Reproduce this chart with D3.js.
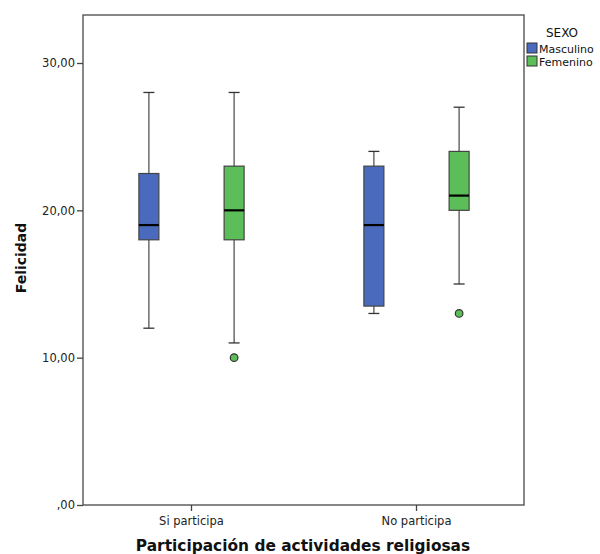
<!DOCTYPE html>
<html>
<head>
<meta charset="utf-8">
<script src="https://cdn.jsdelivr.net/npm/d3@7"></script>
<style>
  html, body { margin: 0; padding: 0; background: #fff; }
  svg { display: block; font-family: "DejaVu Sans", sans-serif; }
</style>
</head>
<body>
<svg id="chart" width="600" height="554"></svg>
<script>
// Categories and groups
const categories = ["Si participa", "No participa"];
const groups = ["Masculino", "Femenino"];
const groupColors = ["#4a6bbd", "#5cbe58"];

// Box statistics per category, in group order: [low whisker, Q1, median, Q3, high whisker]
const siParticipa = [
  [12, 18, 19, 22.5, 28],
  [11, 18, 20, 23, 28]
];
const noParticipa = [
  [13, 13.5, 19, 23, 24],
  [15, 20, 21, 24, 27]
];
// Outliers per category, in group order
const siOutliers = [[], [10]];
const noOutliers = [[], [13]];

const yTicks = [0, 10, 20, 30];

const statsByCat = [siParticipa, noParticipa];
const outliersByCat = [siOutliers, noOutliers];

const svg = d3.select("#chart");
const frame = { left: 83, right: 524, top: 15, bottom: 505 };

const y = d3.scaleLinear().domain([0, 30]).range([frame.bottom, 63]);
const x = d3.scaleBand().domain(categories).range([frame.left - 4, frame.right + 5]).paddingInner(0).paddingOuter(0);
const xg = d3.scaleBand().domain(groups).range([0, x.bandwidth()]).paddingInner(0.0).paddingOuter(0.32);

const fmt = v => v === 0 ? ",00" : d3.format(".2f")(v).replace(".", ",");

// Frame
svg.append("rect")
  .attr("x", frame.left).attr("y", frame.top)
  .attr("width", frame.right - frame.left).attr("height", frame.bottom - frame.top)
  .attr("fill", "none").attr("stroke", "#555").attr("stroke-width", 1.4);

// Y axis
const yAxis = svg.append("g")
  .attr("transform", `translate(${frame.left},0)`)
  .call(d3.axisLeft(y).tickValues(yTicks).tickFormat(fmt).tickSize(6).tickPadding(2));
yAxis.select(".domain").remove();
yAxis.selectAll(".tick line").attr("stroke", "#444").attr("stroke-width", 1.3);
yAxis.selectAll(".tick text").attr("font-size", 11.5).attr("fill", "#222")
  .attr("font-family", "DejaVu Sans, sans-serif");

// X axis
const xAxis = svg.append("g")
  .attr("transform", `translate(0,${frame.bottom})`)
  .call(d3.axisBottom(x).tickSize(6).tickPadding(6));
xAxis.select(".domain").remove();
xAxis.selectAll(".tick line").attr("stroke", "#444").attr("stroke-width", 1.3);
xAxis.selectAll(".tick text").attr("font-size", 11.5).attr("fill", "#222")
  .attr("font-family", "DejaVu Sans, sans-serif");

// Axis titles
svg.append("text")
  .attr("transform", `translate(26,258) rotate(-90)`)
  .attr("text-anchor", "middle")
  .attr("font-size", 14).attr("font-weight", "bold").attr("fill", "#111")
  .text("Felicidad");

svg.append("text")
  .attr("x", 303).attr("y", 551)
  .attr("text-anchor", "middle")
  .attr("font-size", 15.4).attr("font-weight", "bold").attr("fill", "#111")
  .text("Participación de actividades religiosas");

// Boxes
const boxW = 20;
categories.forEach((cat, ci) => {
  groups.forEach((grp, gi) => {
    const s = statsByCat[ci][gi];
    const cx = x(cat) + xg(grp) + xg.bandwidth() / 2;
    const g = svg.append("g");
    // whisker line
    g.append("line").attr("x1", cx).attr("x2", cx)
      .attr("y1", y(s[4])).attr("y2", y(s[0]))
      .attr("stroke", "#555").attr("stroke-width", 1.3);
    // whisker caps
    [s[0], s[4]].forEach(v => {
      g.append("line").attr("x1", cx - 5.5).attr("x2", cx + 5.5)
        .attr("y1", y(v)).attr("y2", y(v))
        .attr("stroke", "#333").attr("stroke-width", 1.3);
    });
    // box
    g.append("rect")
      .attr("x", cx - boxW / 2).attr("y", y(s[3]))
      .attr("width", boxW).attr("height", y(s[1]) - y(s[3]))
      .attr("fill", groupColors[gi]).attr("stroke", "#444").attr("stroke-width", 1.2);
    // median
    g.append("line").attr("x1", cx - boxW / 2).attr("x2", cx + boxW / 2)
      .attr("y1", y(s[2])).attr("y2", y(s[2]))
      .attr("stroke", "#000").attr("stroke-width", 2.2);
    // outliers
    outliersByCat[ci][gi].forEach(v => {
      g.append("circle").attr("cx", cx).attr("cy", y(v)).attr("r", 3.8)
        .attr("fill", groupColors[gi]).attr("stroke", "#333").attr("stroke-width", 1.2);
    });
  });
});

// Legend
svg.append("text").attr("x", 562).attr("y", 37).attr("text-anchor", "middle")
  .attr("font-size", 12).attr("fill", "#111").text("SEXO");
groups.forEach((grp, gi) => {
  const ly = 43 + gi * 13;
  svg.append("rect").attr("x", 527).attr("y", ly).attr("width", 10).attr("height", 10)
    .attr("fill", groupColors[gi]).attr("stroke", "#333").attr("stroke-width", 1);
  svg.append("text").attr("x", 539).attr("y", ly + 9.5)
    .attr("font-size", 11).attr("fill", "#111").text(grp);
});
</script>
</body>
</html>
